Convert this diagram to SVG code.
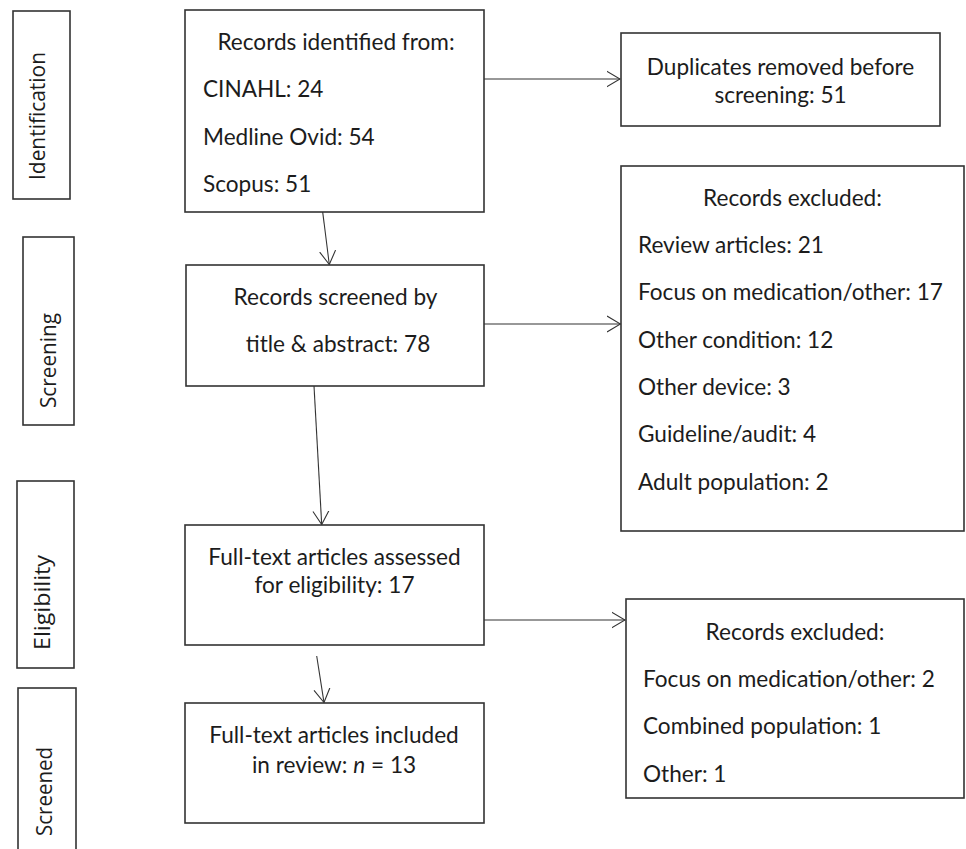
<svg xmlns="http://www.w3.org/2000/svg" width="966" height="849" viewBox="0 0 966 849">
<style>
.box{fill:#fff;stroke:#333;stroke-width:1.6}
.t{font-family:Lato,"Open Sans","Liberation Sans",sans-serif;font-size:22.6px;fill:#1c1c1c}
.c{text-anchor:middle}
.lab{font-family:"Open Sans",Lato,"Liberation Sans",sans-serif;font-size:21px;fill:#1c1c1c}
.ln{fill:none;stroke:#333;stroke-width:1.1}
</style>
<defs>
<marker id="ah" viewBox="0 0 14 18" refX="13.5" refY="9" markerWidth="14" markerHeight="18" markerUnits="userSpaceOnUse" orient="auto">
<path d="M0,1 L13.5,9 L0,17" fill="none" stroke="#333" stroke-width="1.1"/>
</marker>
</defs>
<rect width="966" height="849" fill="#fff"/>

<g id="stage-identification">
<rect class="box" x="13" y="11" width="57" height="188"/>
<text class="lab" transform="translate(45,180) rotate(-90)" textLength="128" lengthAdjust="spacingAndGlyphs">Identification</text>
</g>
<g id="stage-screening">
<rect class="box" x="23" y="237" width="51" height="188"/>
<text class="lab" transform="translate(56,408) rotate(-90)" textLength="95" lengthAdjust="spacingAndGlyphs">Screening</text>
</g>
<g id="stage-eligibility">
<rect class="box" x="17" y="481" width="57" height="187"/>
<text class="lab" transform="translate(50,650) rotate(-90)" textLength="95" lengthAdjust="spacingAndGlyphs">Eligibility</text>
</g>
<g id="stage-screened">
<rect class="box" x="18" y="688" width="58" height="170"/>
<text class="lab" transform="translate(52,836) rotate(-90)" textLength="89" lengthAdjust="spacingAndGlyphs">Screened</text>
</g>

<g id="identified">
<rect class="box" x="185" y="10" width="299" height="202"/>
<text class="t c" x="336" y="50">Records identified from:</text>
<text class="t" x="203" y="97">CINAHL: 24</text>
<text class="t" x="203" y="145">Medline Ovid: 54</text>
<text class="t" x="203" y="192">Scopus: 51</text>
</g>

<g id="duplicates">
<rect class="box" x="621" y="33" width="319" height="93"/>
<text class="t c" x="780.5" y="75">Duplicates removed before</text>
<text class="t c" x="780.5" y="103">screening: 51</text>
</g>

<g id="screened">
<rect class="box" x="186" y="265" width="298" height="121"/>
<text class="t c" x="335.5" y="305">Records screened by</text>
<text class="t c" x="338" y="352">title &amp; abstract: 78</text>
</g>

<g id="excluded1">
<rect class="box" x="621" y="166" width="343" height="365"/>
<text class="t c" x="792.5" y="206">Records excluded:</text>
<text class="t" x="638" y="253">Review articles: 21</text>
<text class="t" x="638" y="300">Focus on medication/other: 17</text>
<text class="t" x="638" y="348">Other condition: 12</text>
<text class="t" x="638" y="395">Other device: 3</text>
<text class="t" x="638" y="442">Guideline/audit: 4</text>
<text class="t" x="638" y="490">Adult population: 2</text>
</g>

<g id="eligibility">
<rect class="box" x="185" y="525" width="299" height="120"/>
<text class="t c" x="334.5" y="565">Full-text articles assessed</text>
<text class="t c" x="334.5" y="593">for eligibility: 17</text>
</g>

<g id="excluded2">
<rect class="box" x="626" y="599" width="338" height="199"/>
<text class="t c" x="795" y="640">Records excluded:</text>
<text class="t" x="643" y="687">Focus on medication/other: 2</text>
<text class="t" x="643" y="734">Combined population: 1</text>
<text class="t" x="643" y="782">Other: 1</text>
</g>

<g id="included">
<rect class="box" x="185" y="703" width="299" height="120"/>
<text class="t c" x="334" y="743">Full-text articles included</text>
<text class="t c" x="334" y="773">in review: <tspan font-style="italic">n</tspan> = 13</text>
</g>

<g id="connectors">
<line class="ln" x1="484" y1="79" x2="620" y2="79" marker-end="url(#ah)"/>
<line class="ln" x1="322.7" y1="212" x2="329.3" y2="264.5" marker-end="url(#ah)"/>
<line class="ln" x1="484" y1="324" x2="620.5" y2="324" marker-end="url(#ah)"/>
<line class="ln" x1="314" y1="386" x2="321.7" y2="524.5" marker-end="url(#ah)"/>
<line class="ln" x1="484" y1="620" x2="625" y2="620" marker-end="url(#ah)"/>
<line class="ln" x1="316.7" y1="656" x2="324" y2="702.5" marker-end="url(#ah)"/>
</g>
</svg>
